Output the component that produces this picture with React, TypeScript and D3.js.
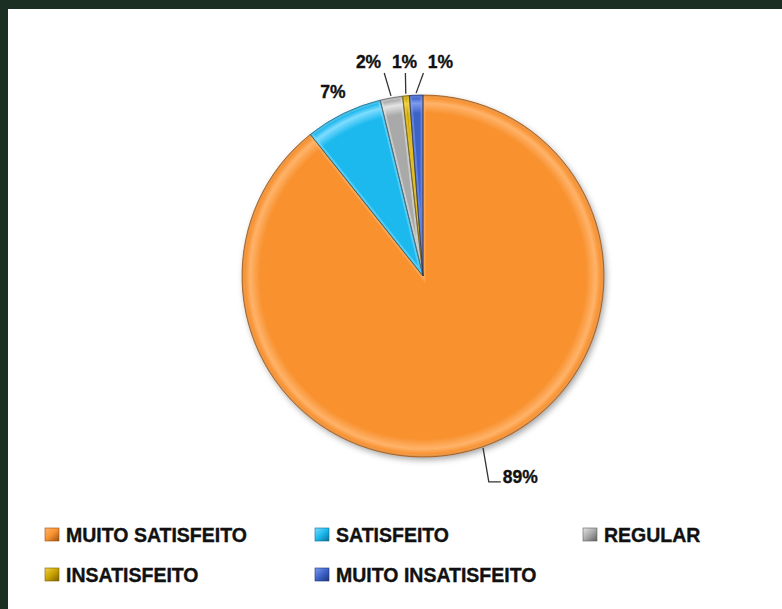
import React from "react";
import * as d3 from "d3";

const categories = ["MUITO SATISFEITO", "SATISFEITO", "REGULAR", "INSATISFEITO", "MUITO INSATISFEITO"];
const values = [89.3, 6.9, 2.0, 0.6, 1.2];
const colors = ["#F8912F", "#1AB9EE", "#A9A9A9", "#C9A200", "#3D63C9"];
const rims = ["#9A5212", "#0B6E92", "#5E5E5E", "#7A6100", "#1D347A"];
const lights = ["#FFB36A", "#7FDCFF", "#E4E4E4", "#F0D24A", "#7F9CF0"];

const W = 782;
const H = 609;
const cx = 423;
const cy = 276;
const R = 181;
const FONT = "'Liberation Sans', Arial, sans-serif";

export default function App() {
  const pie = d3.pie<number>().sort(null).value((d) => d)(values);
  const arc = d3.arc<d3.PieArcDatum<number>>().innerRadius(0).outerRadius(R);
  const total = d3.sum(values);
  const pct = (v: number) => `${Math.round((v / total) * 100)}%`;

  const mid = (d: d3.PieArcDatum<number>) => (d.startAngle + d.endAngle) / 2;
  const polar = (a: number, r: number): [number, number] => [Math.sin(a) * r, -Math.cos(a) * r];

  const small = pie.filter((d) => (d.value / total) < 0.05);
  const spacing = 36;
  const baseX = small.map((d) => polar(mid(d), 210)[0]);
  const meanX = d3.mean(baseX) as number;
  const smallX = small.map((_, i) => meanX + 3 + (i - (small.length - 1) / 2) * spacing);

  const legendCols = [45, 315, 583];
  const legendRows = [542, 582];
  const textStyle = { stroke: "#111", strokeWidth: 0.35 };

  return (
    <svg width={W} height={H} style={{ position: "absolute", left: 0, top: 0, display: "block" }}>
      <defs>
        <filter id="shadow" x="-20%" y="-20%" width="140%" height="140%">
          <feDropShadow dx="2" dy="3" stdDeviation="3" floodColor="#000" floodOpacity="0.35" />
        </filter>
        {colors.map((c, i) => (
          <radialGradient key={i} id={`g${i}`} gradientUnits="userSpaceOnUse" cx={0} cy={0} r={R}>
            <stop offset="0" stopColor={c} />
            <stop offset="0.9" stopColor={c} />
            <stop offset="0.955" stopColor={lights[i]} />
            <stop offset="0.985" stopColor={c} />
            <stop offset="1" stopColor={rims[i]} />
          </radialGradient>
        ))}
        {pie.map((d, i) => (
          <clipPath key={i} id={`c${i}`}>
            <path d={arc(d) as string} />
          </clipPath>
        ))}
        {colors.map((c, i) => (
          <linearGradient key={i} id={`s${i}`} x1="0" y1="0" x2="1" y2="1">
            <stop offset="0" stopColor={lights[i]} />
            <stop offset="0.5" stopColor={c} />
            <stop offset="1" stopColor={rims[i]} />
          </linearGradient>
        ))}
      </defs>
      <rect x={0} y={0} width={W} height={H} fill="#1B2F23" />
      <rect x={8} y={9} width={W - 8} height={H - 9} fill="#FFFFFF" />

      <g transform={`translate(${cx},${cy})`}>
        <g filter="url(#shadow)">
          {pie.map((d, i) => (
            <path key={i} d={arc(d) as string} fill={`url(#g${i})`} />
          ))}
        </g>
        {pie.map((d, i) => (
          <g key={i} clipPath={`url(#c${i})`}>
            <path d={arc(d) as string} fill="none" stroke={lights[i]} strokeWidth={5} strokeOpacity={0.55} />
          </g>
        ))}
        {pie.map((d, i) => (
          <path key={i} d={arc(d) as string} fill="none" stroke={rims[i]} strokeWidth={0.9} strokeOpacity={0.8} />
        ))}

        {pie.map((d, i) => {
          const share = d.value / total;
          const a = mid(d);
          if (share >= 0.5) {
            const [x0, y0] = polar(a, R + 1);
            const elbowY = polar(a, 218)[1];
            const elbowX = x0 + (elbowY - y0) * 0.17;
            return (
              <g key={i}>
                <polyline
                  points={`${x0},${y0} ${elbowX},${elbowY} ${elbowX + 12},${elbowY}`}
                  fill="none"
                  stroke="#333"
                  strokeWidth={1.3}
                />
                <text x={elbowX + 14} y={elbowY + 1} fontFamily={FONT} fontWeight="bold" fontSize={17.5} fill="#111" style={textStyle}>
                  {pct(d.value)}
                </text>
              </g>
            );
          }
          if (share >= 0.05) {
            const [lx, ly] = polar(a, 205);
            return (
              <text key={i} x={lx} y={ly + 6} textAnchor="middle" fontFamily={FONT} fontWeight="bold" fontSize={17.5} fill="#111" style={textStyle}>
                {pct(d.value)}
              </text>
            );
          }
          const k = small.indexOf(d);
          const lx = smallX[k];
          const [x0, y0] = polar(a, R + 2);
          const ty = -cy + 68;
          const x1 = x0 + (lx - x0) * 0.3;
          return (
            <g key={i}>
              <line x1={x0} y1={y0} x2={x1} y2={ty + 5} stroke="#333" strokeWidth={1.3} />
              <text x={lx} y={ty} textAnchor="middle" fontFamily={FONT} fontWeight="bold" fontSize={17.5} fill="#111" style={textStyle}>
                {pct(d.value)}
              </text>
            </g>
          );
        })}
      </g>

      {categories.map((c, i) => {
        const col = i % 3;
        const row = Math.floor(i / 3);
        const x = legendCols[col];
        const y = legendRows[row];
        return (
          <g key={c}>
            <rect x={x} y={y - 14} width={14} height={13} fill={`url(#s${i})`} stroke={rims[i]} strokeWidth={0.6} />
            <text x={x + 21} y={y} fontFamily={FONT} fontWeight="bold" fontSize={19.5} fill="#111" style={textStyle}>
              {c}
            </text>
          </g>
        );
      })}
    </svg>
  );
}
